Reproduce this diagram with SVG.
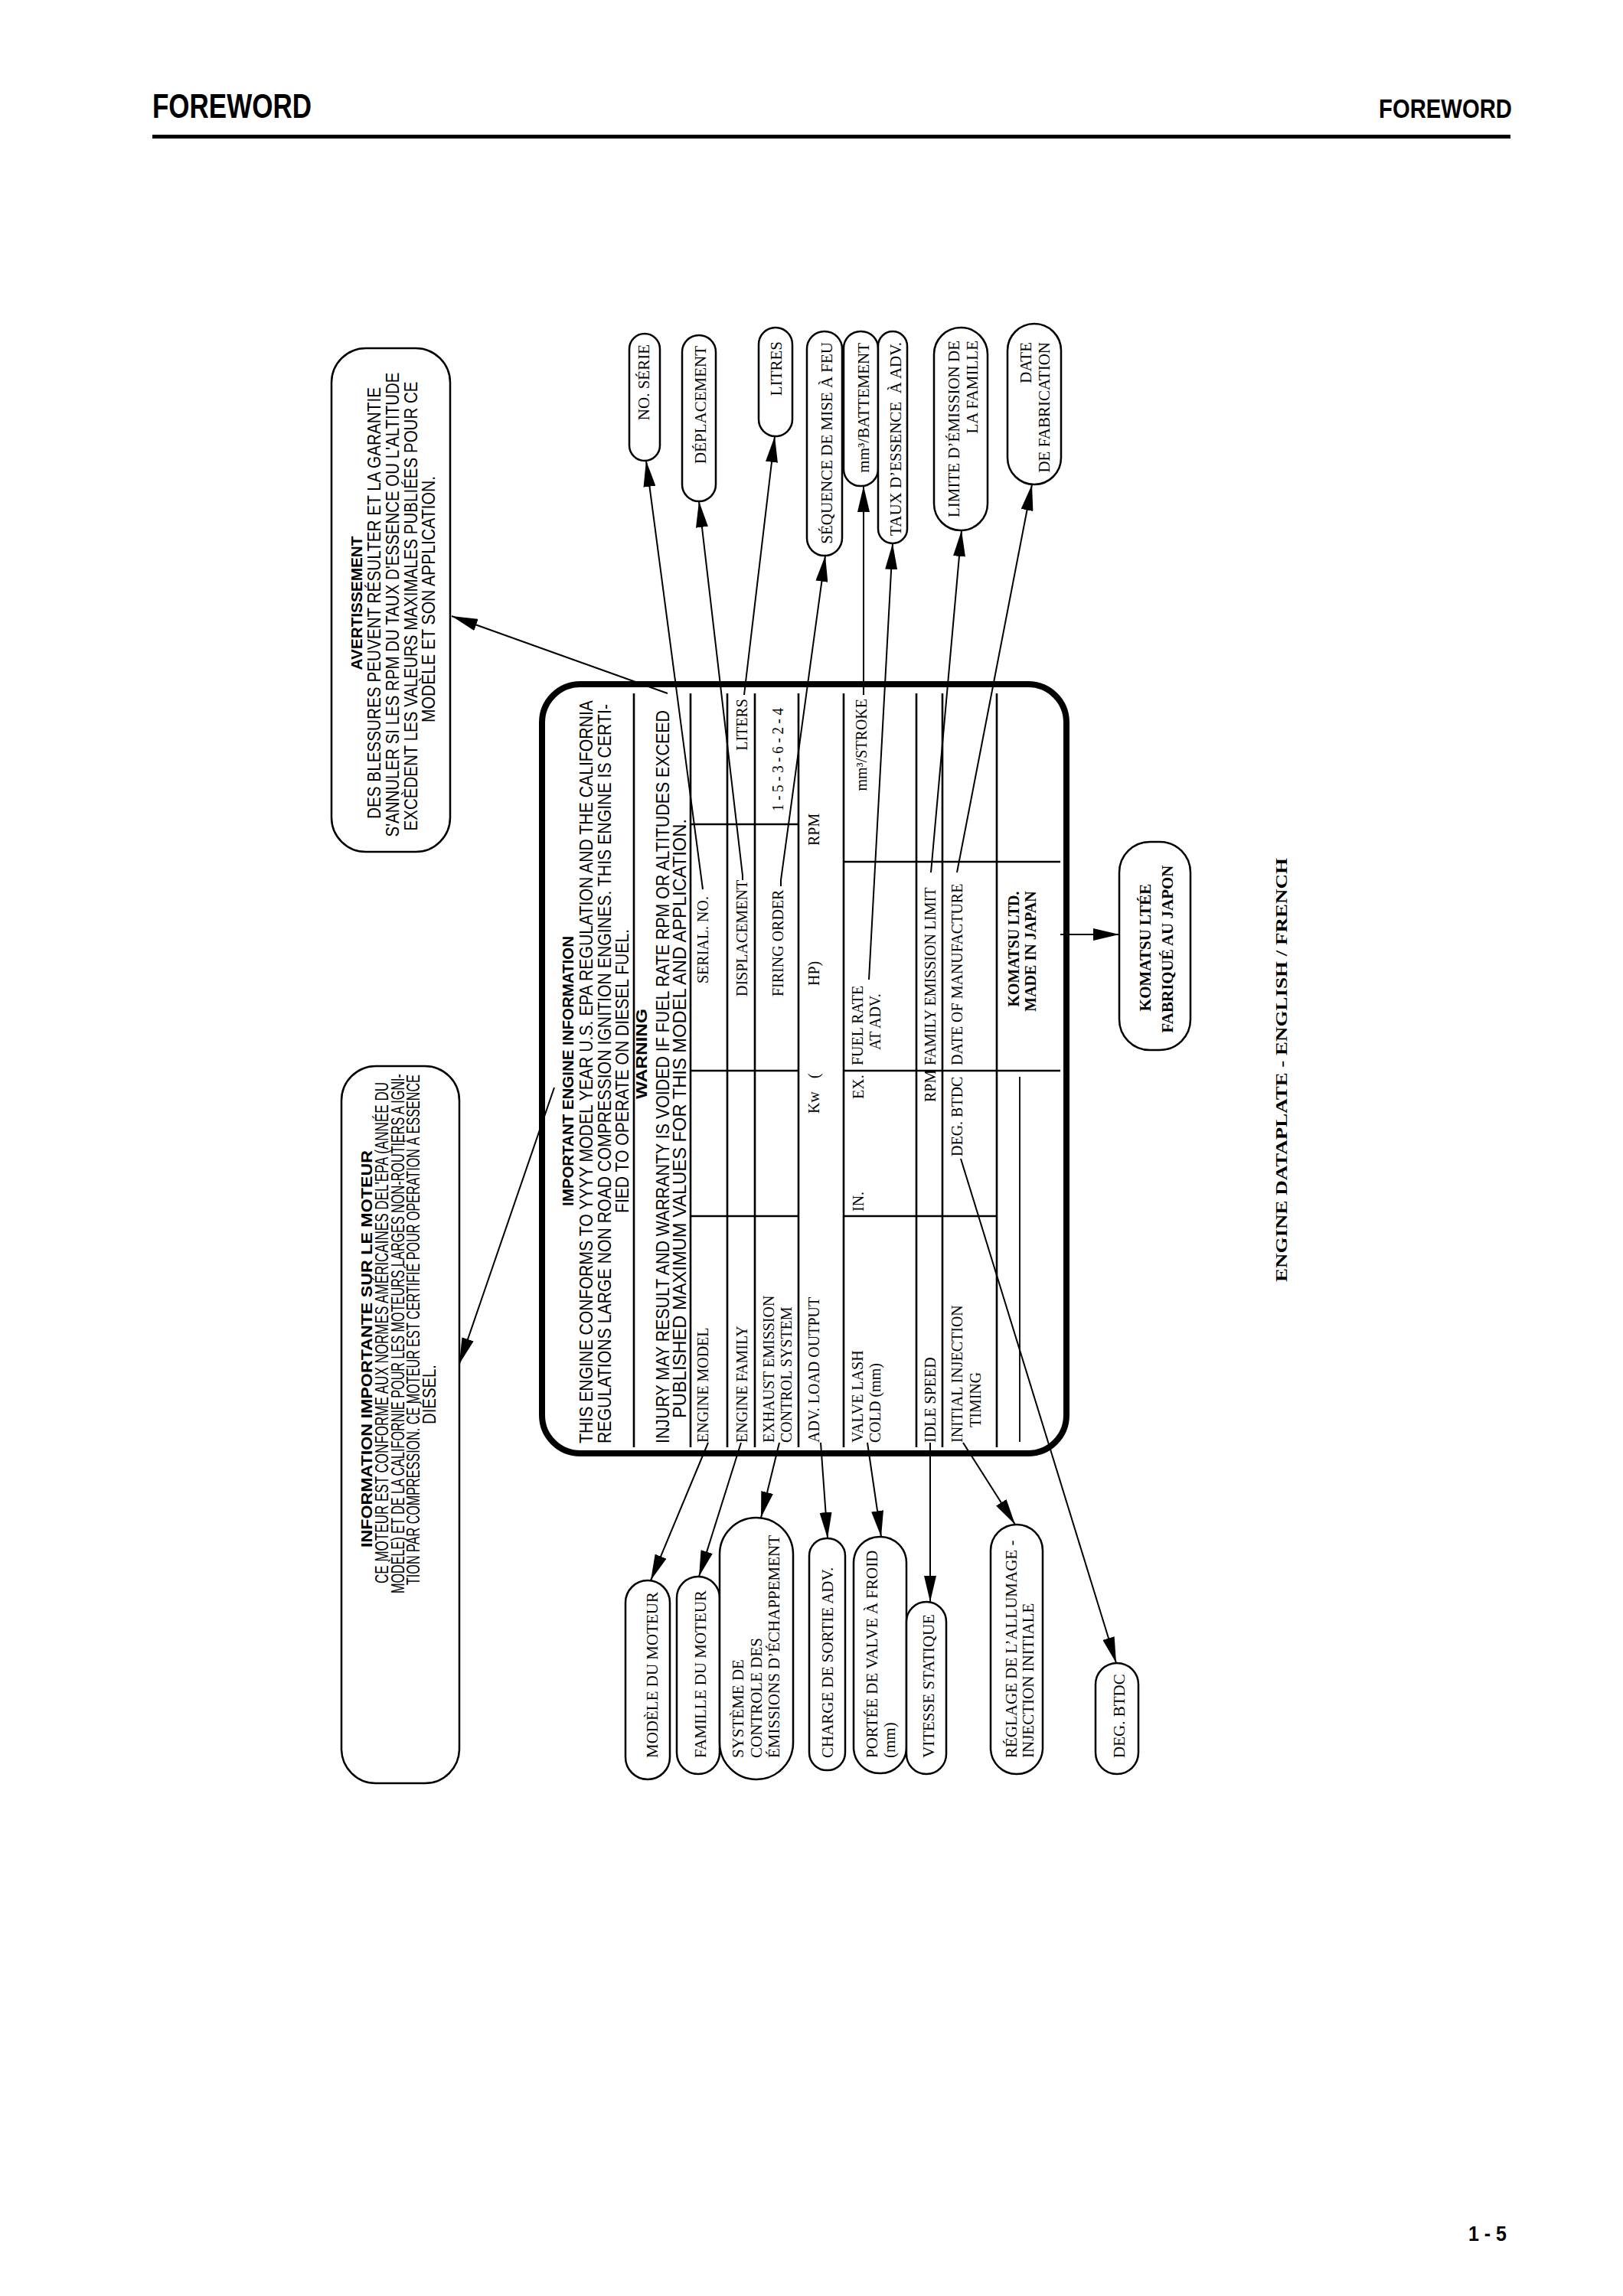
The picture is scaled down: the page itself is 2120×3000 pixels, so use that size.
<svg xmlns="http://www.w3.org/2000/svg" width="2120" height="3000" viewBox="0 0 2120 3000">
<defs>
<style>
text{fill:#000}
.hd{font-family:"Liberation Sans",Arial,sans-serif;font-weight:bold}
.s{font-family:"Liberation Sans",Arial,sans-serif;font-size:23.5px}
.sb{font-family:"Liberation Sans",Arial,sans-serif;font-size:21px;font-weight:bold}
.p{font-family:"Liberation Sans",Arial,sans-serif;font-size:23px}
.pb{font-family:"Liberation Sans",Arial,sans-serif;font-size:20px;font-weight:bold}
.r{font-family:"Liberation Serif","Times New Roman",serif;font-size:20px}
.rb{font-family:"Liberation Serif","Times New Roman",serif;font-size:20px;font-weight:bold}
.c{font-family:"Liberation Serif","Times New Roman",serif;font-size:21px}
.cb{font-family:"Liberation Serif","Times New Roman",serif;font-size:21px;font-weight:bold}
.box{fill:#fff;stroke:#000;stroke-width:2.5}
.ln{stroke:#000;stroke-width:2;fill:none}
.ar{stroke:#000;stroke-width:2;fill:none;marker-end:url(#ah)}
.rule{stroke:#000;stroke-width:2.6}
</style>
<marker id="ah" viewBox="0 0 34 16" refX="34" refY="8" markerWidth="34" markerHeight="16" markerUnits="userSpaceOnUse" orient="auto"><path d="M0,0 L34,8 L0,16 z" fill="#000"/></marker>
</defs>
<rect width="2120" height="3000" fill="#fff"/>

<g id="header">
<text class="hd" x="199" y="154" font-size="45" textLength="208" lengthAdjust="spacingAndGlyphs">FOREWORD</text>
<text class="hd" x="1801" y="154" font-size="35" textLength="174" lengthAdjust="spacingAndGlyphs">FOREWORD</text>
<rect x="199" y="176" width="1774" height="5" fill="#000"/>
<text class="hd" x="1918" y="2928" font-size="28" textLength="50" lengthAdjust="spacingAndGlyphs">1 - 5</text>
</g>

<g id="avertissement">
<rect class="box" x="433" y="455" width="155" height="658" rx="45"/>
<text class="sb" text-anchor="middle" transform="translate(473,788) rotate(-90)" textLength="175" lengthAdjust="spacingAndGlyphs">AVERTISSEMENT</text>
<text class="s" text-anchor="middle" transform="translate(497,788) rotate(-90)" textLength="564" lengthAdjust="spacingAndGlyphs">DES BLESSURES PEUVENT RÉSULTER ET LA GARANTIE</text>
<text class="s" text-anchor="middle" transform="translate(521,790) rotate(-90)" textLength="607" lengthAdjust="spacingAndGlyphs">S'ANNULER SI LES RPM DU TAUX D'ESSENCE OU L'ALTITUDE</text>
<text class="s" text-anchor="middle" transform="translate(545,792) rotate(-90)" textLength="587" lengthAdjust="spacingAndGlyphs">EXCÈDENT LES VALEURS MAXIMALES PUBLIÉES POUR CE</text>
<text class="s" text-anchor="middle" transform="translate(568,783) rotate(-90)" textLength="322" lengthAdjust="spacingAndGlyphs">MODÈLE ET SON APPLICATION.</text>
</g>

<g id="information">
<rect class="box" x="446" y="1393" width="154" height="937" rx="45"/>
<text class="sb" transform="translate(486,2022) rotate(-90)" textLength="519" lengthAdjust="spacingAndGlyphs">INFORMATION IMPORTANTE SUR LE MOTEUR</text>
<text class="s" transform="translate(507,2069) rotate(-90)" textLength="655" lengthAdjust="spacingAndGlyphs">CE MOTEUR EST CONFORME AUX NORMES AMÉRICAINES DEL'EPA (ANNÉE DU</text>
<text class="s" transform="translate(528,2082) rotate(-90)" textLength="679" lengthAdjust="spacingAndGlyphs">MODÈLE) ET DE LA CALIFORNIE POUR LES MOTEURS LARGES NON-ROUTIERS A IGNI-</text>
<text class="s" transform="translate(548,2071) rotate(-90)" textLength="667" lengthAdjust="spacingAndGlyphs">TION PAR COMPRESSION.  CE MOTEUR EST CERTIFIÉ POUR OPERATION À ESSENCE</text>
<text class="s" text-anchor="middle" transform="translate(569,1822) rotate(-90)" textLength="78" lengthAdjust="spacingAndGlyphs">DIÉSEL.</text>
</g>

<g id="dataplate">
<rect x="708" y="894" width="685" height="1005" rx="50" fill="#fff" stroke="#000" stroke-width="8"/>
<g class="rule">
<line x1="828" y1="906" x2="828" y2="1891"/>
<line x1="902" y1="906" x2="902" y2="1891"/>
<line x1="950" y1="906" x2="950" y2="1891"/>
<line x1="986" y1="906" x2="986" y2="1891"/>
<line x1="1043" y1="906" x2="1043" y2="1891"/>
<line x1="1102" y1="906" x2="1102" y2="1891"/>
<line x1="1197" y1="906" x2="1197" y2="1891"/>
<line x1="1231" y1="906" x2="1231" y2="1891"/>
<line x1="1302" y1="906" x2="1302" y2="1891"/>
<line x1="902" y1="1589" x2="1043" y2="1589"/>
<line x1="902" y1="1399" x2="1043" y2="1399"/>
<line x1="902" y1="1077" x2="1043" y2="1077"/>
<line x1="1102" y1="1589" x2="1302" y2="1589"/>
<line x1="1102" y1="1399" x2="1385" y2="1399"/>
<line x1="1102" y1="1126" x2="1385" y2="1126"/>
</g>
<line x1="1332" y1="1407" x2="1332" y2="1884" stroke="#000" stroke-width="1.8"/>
<text class="pb" transform="translate(749,1576) rotate(-90)" textLength="353" lengthAdjust="spacingAndGlyphs">IMPORTANT ENGINE INFORMATION</text>
<text class="p" transform="translate(774,1886) rotate(-90)" textLength="971" lengthAdjust="spacingAndGlyphs">THIS ENGINE CONFORMS TO YYYY MODEL YEAR U.S. EPA REGULATION AND THE CALIFORNIA</text>
<text class="p" transform="translate(798,1886) rotate(-90)" textLength="966" lengthAdjust="spacingAndGlyphs">REGULATIONS LARGE NON ROAD COMPRESSION IGNITION ENGINES. THIS ENGINE IS CERTI-</text>
<text class="p" transform="translate(821,1585) rotate(-90)" textLength="371" lengthAdjust="spacingAndGlyphs">FIED TO OPERATE ON DIESEL FUEL.</text>
<text class="pb" transform="translate(845,1436) rotate(-90)" textLength="118" lengthAdjust="spacingAndGlyphs">WARNING</text>
<text class="p" transform="translate(874,1886) rotate(-90)" textLength="958" lengthAdjust="spacingAndGlyphs">INJURY MAY RESULT AND WARRANTY IS VOIDED IF FUEL RATE RPM OR ALTITUDES EXCEED</text>
<text class="p" transform="translate(896,1853) rotate(-90)" textLength="783" lengthAdjust="spacingAndGlyphs">PUBLISHED MAXIMUM VALUES FOR THIS MODEL AND APPLICATION.</text>

<text class="r" transform="translate(925,1885) rotate(-90)">ENGINE MODEL</text>
<text class="r" transform="translate(925,1285) rotate(-90)">SERIAL. NO.</text>
<text class="r" transform="translate(976,1885) rotate(-90)">ENGINE FAMILY</text>
<text class="r" transform="translate(976,1302) rotate(-90)">DISPLACEMENT</text>
<text class="r" text-anchor="end" transform="translate(976,913) rotate(-90)">LITERS</text>
<text class="r" transform="translate(1011,1885) rotate(-90)">EXHAUST EMISSION</text>
<text class="r" transform="translate(1034,1885) rotate(-90)">CONTROL SYSTEM</text>
<text class="r" transform="translate(1023,1302) rotate(-90)">FIRING ORDER</text>
<text class="r" transform="translate(1023,1060) rotate(-90)" textLength="135" lengthAdjust="spacingAndGlyphs">1 - 5 - 3 - 6 - 2 - 4</text>
<text class="r" transform="translate(1070,1885) rotate(-90)">ADV. LOAD OUTPUT</text>
<text class="r" transform="translate(1070,1455) rotate(-90)">Kw</text>
<text class="r" transform="translate(1070,1409) rotate(-90)">(</text>
<text class="r" transform="translate(1070,1288) rotate(-90)">HP)</text>
<text class="r" transform="translate(1070,1105) rotate(-90)">RPM</text>
<text class="r" transform="translate(1127,1885) rotate(-90)">VALVE LASH</text>
<text class="r" transform="translate(1150,1885) rotate(-90)">COLD (mm)</text>
<text class="r" transform="translate(1128,1583) rotate(-90)">IN.</text>
<text class="r" transform="translate(1128,1436) rotate(-90)">EX.</text>
<text class="r" transform="translate(1127,1392) rotate(-90)">FUEL RATE</text>
<text class="r" transform="translate(1150,1372) rotate(-90)">AT ADV.</text>
<text class="r" text-anchor="end" font-size="21" transform="translate(1132,913) rotate(-90)">mm³/STROKE</text>
<text class="r" transform="translate(1222,1885) rotate(-90)">IDLE SPEED</text>
<text class="r" transform="translate(1222,1440) rotate(-90)">RPM</text>
<text class="r" transform="translate(1222,1392) rotate(-90)">FAMILY EMISSION LIMIT</text>
<text class="r" transform="translate(1257,1885) rotate(-90)">INITIAL INJECTION</text>
<text class="r" transform="translate(1281,1865) rotate(-90)">TIMING</text>
<text class="r" transform="translate(1257,1511) rotate(-90)">DEG. BTDC</text>
<text class="r" transform="translate(1257,1392) rotate(-90)">DATE OF MANUFACTURE</text>
<text class="rb" text-anchor="middle" transform="translate(1331,1240) rotate(-90)">KOMATSU LTD.</text>
<text class="rb" text-anchor="middle" transform="translate(1353,1243) rotate(-90)">MADE IN JAPAN</text>
</g>

<g id="callouts-top">
<g id="no-serie"><rect class="box" x="822" y="436" width="40" height="166" rx="20"/><text class="c" text-anchor="end" transform="translate(848,450) rotate(-90)">NO. SÉRIE</text></g>
<g id="deplacement"><rect class="box" x="891" y="438" width="44" height="217" rx="22"/><text class="c" text-anchor="end" transform="translate(922,452) rotate(-90)">DÉPLACEMENT</text></g>
<g id="litres"><rect class="box" x="991" y="428" width="44" height="142" rx="22"/><text class="c" text-anchor="end" transform="translate(1021,446) rotate(-90)">LITRES</text></g>
<g id="sequence"><rect class="box" x="1054" y="433" width="46" height="293" rx="23"/><text class="c" text-anchor="end" transform="translate(1087,447) rotate(-90)">SÉQUENCE DE MISE À FEU</text></g>
<g id="battement"><rect class="box" x="1102" y="433" width="45" height="202" rx="22"/><text class="c" text-anchor="end" transform="translate(1135,448) rotate(-90)">mm³/BATTEMENT</text></g>
<g id="taux"><rect class="box" x="1147" y="433" width="38" height="277" rx="19"/><text class="c" text-anchor="end" transform="translate(1177,447) rotate(-90)">TAUX D’ESSENCE &#160;À ADV.</text></g>
<g id="limite"><rect class="box" x="1220" y="428" width="70" height="265" rx="35"/><text class="c" text-anchor="end" transform="translate(1253,445) rotate(-90)">LIMITE D’ÉMISSION DE</text><text class="c" text-anchor="end" transform="translate(1277,445) rotate(-90)">LA FAMILLE</text></g>
<g id="date"><rect class="box" x="1316" y="423" width="70" height="210" rx="35"/><text class="c" text-anchor="end" transform="translate(1347,447) rotate(-90)">DATE</text><text class="c" text-anchor="end" transform="translate(1371,447) rotate(-90)">DE FABRICATION</text></g>
</g>

<g id="callouts-bottom">
<g id="modele"><rect class="box" x="817" y="2065" width="58" height="260" rx="29"/><text class="c" transform="translate(859,2297) rotate(-90)">MODÈLE DU MOTEUR</text></g>
<g id="famille"><rect class="box" x="884" y="2060" width="56" height="258" rx="28"/><text class="c" transform="translate(922,2297) rotate(-90)">FAMILLE DU MOTEUR</text></g>
<g id="systeme"><rect class="box" x="940" y="1983" width="96" height="342" rx="48"/><text class="c" transform="translate(971,2297) rotate(-90)">SYSTÈME DE</text><text class="c" transform="translate(995,2297) rotate(-90)">CONTROLE DES</text><text class="c" transform="translate(1018,2297) rotate(-90)">ÉMISSIONS D’ÉCHAPPEMENT</text></g>
<g id="charge"><rect class="box" x="1057" y="2010" width="47" height="303" rx="23"/><text class="c" transform="translate(1088,2297) rotate(-90)">CHARGE DE SORTIE ADV.</text></g>
<g id="portee"><rect class="box" x="1115" y="2008" width="69" height="309" rx="34"/><text class="c" transform="translate(1146,2297) rotate(-90)">PORTÉE DE VALVE À FROID</text><text class="c" transform="translate(1169,2297) rotate(-90)">(mm)</text></g>
<g id="vitesse"><rect class="box" x="1184" y="2093" width="52" height="225" rx="26"/><text class="c" transform="translate(1220,2297) rotate(-90)">VITESSE STATIQUE</text></g>
<g id="reglage"><rect class="box" x="1294" y="1992" width="68" height="326" rx="34"/><text class="c" transform="translate(1328,2297) rotate(-90)">RÉGLAGE DE L’ALLUMAGE -</text><text class="c" transform="translate(1350,2297) rotate(-90)">INJECTION INITIALE</text></g>
<g id="deg-btdc"><rect class="box" x="1431" y="2173" width="56" height="145" rx="28"/><text class="c" transform="translate(1469,2297) rotate(-90)">DEG. BTDC</text></g>
</g>

<g id="komatsu-ltee"><rect class="box" x="1462" y="1100" width="93" height="272" rx="40"/><text class="cb" text-anchor="middle" transform="translate(1503,1238) rotate(-90)">KOMATSU LTÉE</text><text class="cb" text-anchor="middle" transform="translate(1532,1240) rotate(-90)">FABRIQUÉ AU JAPON</text></g>

<g id="title"><text class="rb" font-size="28" text-anchor="middle" transform="translate(1681,1398) rotate(-90)" textLength="554" lengthAdjust="spacingAndGlyphs">ENGINE DATAPLATE - ENGLISH / FRENCH</text></g>

<g id="connectors">
<path class="ar" d="M872,906 L590,805"/>
<path class="ar" d="M724,1421 L600,1782"/>
<path class="ar" d="M918,1162 L844,602"/>
<path class="ar" d="M970,1150 L970,1144 L913,655"/>
<path class="ar" d="M972,908 L1012,570"/>
<path class="ar" d="M1020,1158 L1020,1150 L1078,726"/>
<path class="ar" d="M1128,908 L1128,635"/>
<path class="ar" d="M1135,1280 L1166,710"/>
<path class="ar" d="M1216,1140 L1256,693"/>
<path class="ar" d="M1250,1140 L1348,633"/>
<path class="ar" d="M925,1885 L850,2065"/>
<path class="ar" d="M968,1885 L913,2060"/>
<path class="ar" d="M1018,1885 L994,1983"/>
<path class="ar" d="M1072,1885 L1081,2010"/>
<path class="ar" d="M1133,1885 L1151,2008"/>
<path class="ar" d="M1215,1885 L1215,2093"/>
<path class="ar" d="M1258,1885 L1326,1992"/>
<path class="ar" d="M1255,1514 L1458,2173"/>
<path class="ar" d="M1385,1221 L1462,1221"/>
</g>
</svg>
